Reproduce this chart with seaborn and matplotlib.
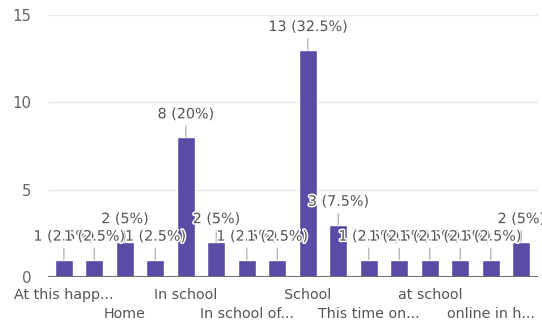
import numpy as np
import pandas as pd
import matplotlib
matplotlib.use("Agg")
import matplotlib.pyplot as plt
import matplotlib.patheffects as pe
import seaborn as sns

# Responses per answer (16 answers, 40 responses in total)
counts = [1, 1, 2, 1, 8, 2, 1, 1, 13, 3, 1, 1, 1, 1, 1, 2]
# Only every second answer gets a visible axis label
tick_labels = ["At this happ...", "", "Home", "", "In school", "",
               "In school of...", "", "School", "", "This time on...", "",
               "at school", "", "online in h...", ""]
y_ticks = [0, 5, 10, 15]

BAR = "#5B4BA5"
TEXT = "#555555"

sns.set_style("white")
plt.rcParams["font.family"] = ["DejaVu Sans"]

fig = plt.figure(figsize=(5.42, 3.24), dpi=100)
ax = fig.add_axes([48 / 542, 47 / 324, 490 / 542, 262 / 324])

df = pd.DataFrame({"pos": np.arange(len(counts)), "count": counts})
sns.barplot(data=df, x="pos", y="count", color=BAR, saturation=1,
            width=0.6, ax=ax, zorder=2)

total = sum(counts)
halo = [pe.withStroke(linewidth=2.2, foreground="white")]
for i, n in enumerate(counts):
    pct = n / total * 100
    ax.annotate(f"{n} ({pct:g}%)", xy=(i, n), xytext=(0, 16.5),
                textcoords="offset points", ha="center", va="center",
                fontsize=10.3, color=TEXT, path_effects=halo, zorder=4,
                arrowprops=dict(arrowstyle="-", color="#b8b8b8", lw=1,
                                shrinkA=1, shrinkB=0))

ax.set_ylim(0, 15)
ax.set_xlim(-0.52, len(counts) - 0.45)
ax.set_yticks(y_ticks)
ax.set_yticklabels([str(t) for t in y_ticks])
for t in y_ticks[1:]:
    ax.axhline(t, color="#e6e6e6", lw=1, zorder=0)
ax.axhline(0, color="#6e6e6e", lw=1.5, zorder=3)

# Alternate the visible labels across two rows
shown = []
row = 0
for lab in tick_labels:
    if lab:
        shown.append(lab if row == 0 else "\n" + lab)
        row = 1 - row
    else:
        shown.append("")
ax.set_xticks(range(len(counts)))
ax.set_xticklabels(shown)
for t in ax.get_xticklabels():
    t.set_linespacing(1.45)

ax.tick_params(axis="x", length=0, pad=8, labelsize=10.3, labelcolor=TEXT)
ax.tick_params(axis="y", length=0, pad=12, labelsize=10.8, labelcolor="#666666")
ax.set_xlabel("")
ax.set_ylabel("")
for s in ax.spines.values():
    s.set_visible(False)

fig.savefig("out.png", dpi=100, facecolor="white")
